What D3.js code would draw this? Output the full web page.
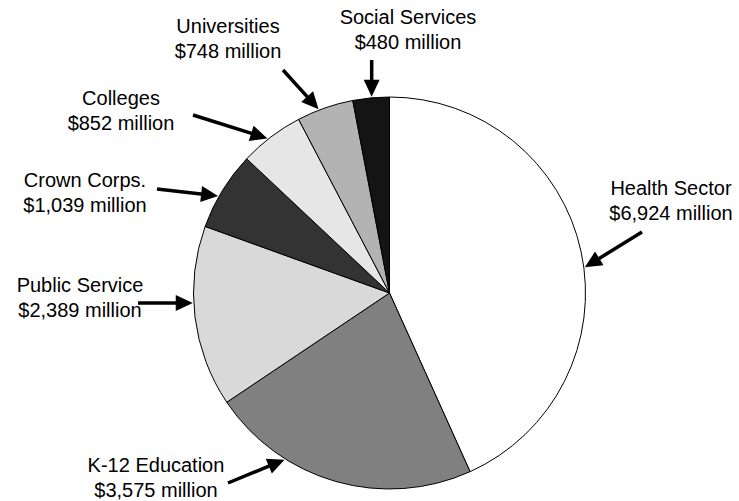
<!DOCTYPE html>
<html>
<head>
<meta charset="utf-8">
<script src="https://cdn.jsdelivr.net/npm/d3@7"></script>
<style>
  html, body { margin: 0; padding: 0; background: #fff; }
  svg { display: block; }
  text { font-family: "Liberation Sans", Arial, sans-serif; font-size: 20px; fill: #000; }
</style>
</head>
<body>
<svg id="chart" width="739" height="501"></svg>
<script>
// ---- Data ----
const categories = ["Health Sector", "K-12 Education", "Public Service", "Crown Corps.", "Colleges", "Universities", "Social Services"];
const values = [6924, 3575, 2389, 1039, 852, 748, 480];          // $ millions
const valueLabels = ["$6,924 million", "$3,575 million", "$2,389 million", "$1,039 million", "$852 million", "$748 million", "$480 million"];

// ---- Styles / layout ----
const fills = ["#ffffff", "#808080", "#d9d9d9", "#333333", "#e6e6e6", "#b3b3b3", "#141414"];
const cx = 389.5, cy = 293, radius = 196;
// label layout: text centre, first baseline, arrow tail (absolute), arrow tip angle (deg clockwise from top)
const layout = [
  { tx: 671, ty: 195, tail: [642, 232], tipAngle: 82.5 },
  { tx: 156, ty: 472, tail: [228, 483], tipAngle: 212.2 },
  { tx: 80,  ty: 292, tail: [138, 303], tipAngle: 267.1 },
  { tx: 85,  ty: 187, tail: [157, 189], tipAngle: 299.5 },
  { tx: 121, ty: 105, tail: [193, 115], tipAngle: 321.7 },
  { tx: 228, ty: 33,  tail: [283, 70],  tipAngle: 338.9 },
  { tx: 408, ty: 24,  tail: [371.7, 60], tipAngle: 354.8 }
];

const svg = d3.select("#chart");
const g = svg.append("g").attr("transform", `translate(${cx},${cy})`);

const data = categories.map((c, i) => ({ name: c, value: values[i], label: valueLabels[i], i }));
const pie = d3.pie().value(d => d.value).sort(null);
const arc = d3.arc().innerRadius(0).outerRadius(radius);

g.selectAll("path.slice")
  .data(pie(data))
  .join("path")
  .attr("class", "slice")
  .attr("d", arc)
  .attr("fill", d => fills[d.data.i])
  .attr("stroke", "#000")
  .attr("stroke-width", 1)
  .attr("stroke-linejoin", "round");

// labels
const labels = svg.append("g");
data.forEach((d, i) => {
  const L = layout[i];
  const t = labels.append("text").attr("text-anchor", "middle");
  t.append("tspan").attr("x", L.tx).attr("y", L.ty).text(d.name);
  t.append("tspan").attr("x", L.tx).attr("y", L.ty + 25).text(d.label);

  // arrow
  const a = L.tipAngle * Math.PI / 180;
  const tip = [cx + (radius + 1) * Math.sin(a), cy - (radius + 1) * Math.cos(a)];
  const tail = L.tail;
  const dx = tip[0] - tail[0], dy = tip[1] - tail[1];
  const len = Math.hypot(dx, dy);
  const ux = dx / len, uy = dy / len;
  const headLen = 17, headHalf = 8;
  const base = [tip[0] - ux * headLen, tip[1] - uy * headLen];
  labels.append("line")
    .attr("x1", tail[0]).attr("y1", tail[1])
    .attr("x2", base[0] + ux * 2).attr("y2", base[1] + uy * 2)
    .attr("stroke", "#000").attr("stroke-width", 3.5);
  labels.append("polygon")
    .attr("points", [
      tip,
      [base[0] - uy * headHalf, base[1] + ux * headHalf],
      [base[0] + uy * headHalf, base[1] - ux * headHalf]
    ].map(p => p.join(",")).join(" "))
    .attr("fill", "#000");
});
</script>
</body>
</html>
